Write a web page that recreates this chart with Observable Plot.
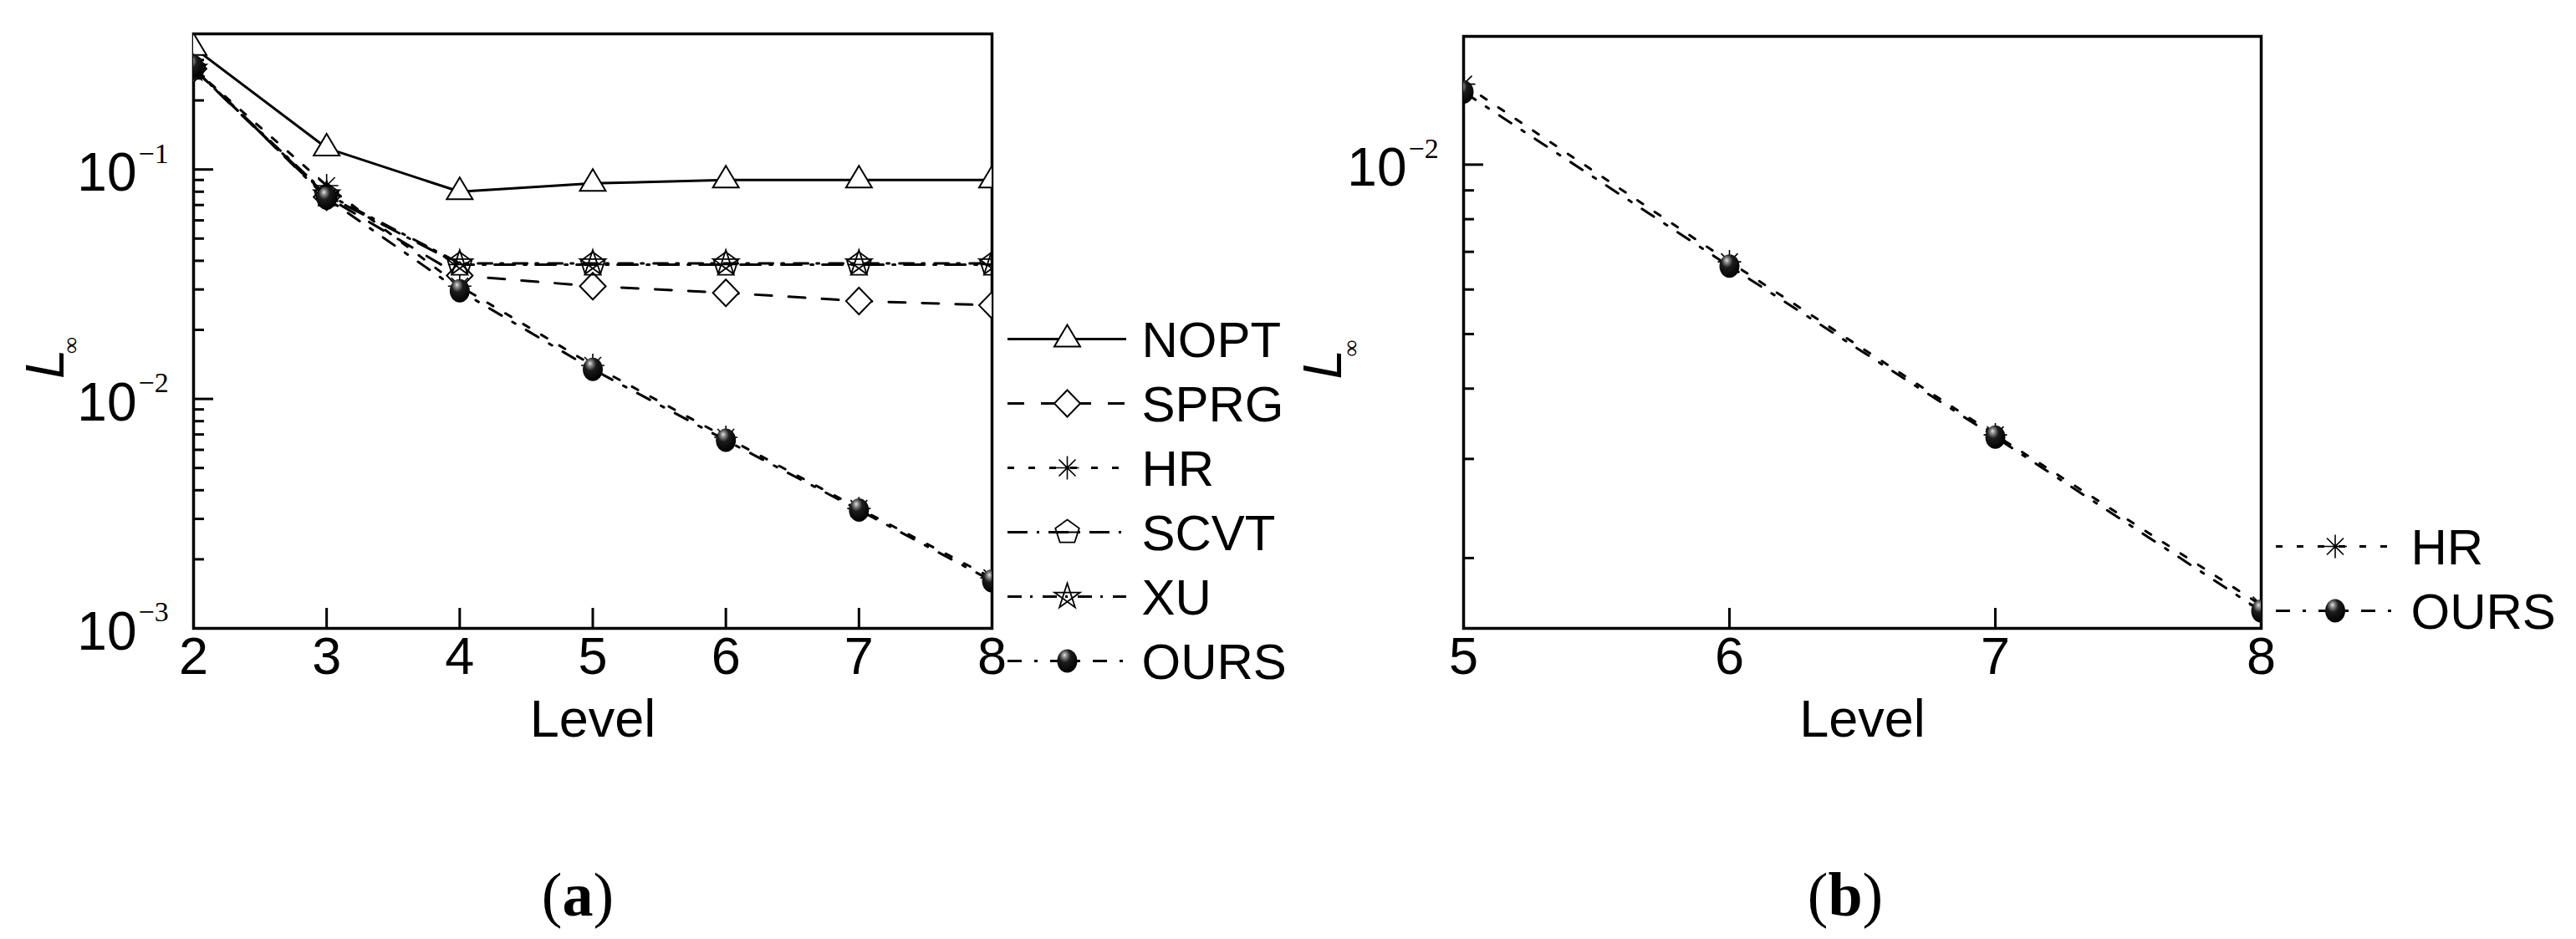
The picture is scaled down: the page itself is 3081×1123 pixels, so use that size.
<!DOCTYPE html>
<html>
<head>
<meta charset="utf-8">
<script src="https://cdn.jsdelivr.net/npm/d3@7"></script>
<script src="https://cdn.jsdelivr.net/npm/@observablehq/plot@0.6"></script>
<style>
html, body { margin: 0; padding: 0; background: #fff; }
#root { position: relative; width: 3081px; height: 1123px; overflow: hidden; background: #fff;
        font-family: "Liberation Sans", Arial, sans-serif; }
.slot { position: absolute; }
.slot svg { display: block; max-width: none !important; background: transparent !important; overflow: visible; }
.cap { position: absolute; width: 200px; text-align: center; font-family: "Liberation Serif", "Times New Roman", serif;
       font-size: 74px; line-height: 74px; color: #000; }
</style>
</head>
<body>
<svg width="0" height="0" style="position:absolute">
  <defs>
    <radialGradient id="ball" cx="0.4" cy="0.32" r="0.68" fx="0.36" fy="0.24">
      <stop offset="0" stop-color="#e6e6e6"/>
      <stop offset="0.16" stop-color="#8c8c8c"/>
      <stop offset="0.42" stop-color="#1c1c1c"/>
      <stop offset="1" stop-color="#000"/>
    </radialGradient>
  </defs>
</svg>
<div id="root"></div>
<script>
// ---------------- data ----------------
const levelsA = [2, 3, 4, 5, 6, 7, 8];
const noptA = [0.34, 0.124, 0.080, 0.087, 0.090, 0.090, 0.090];
const sprgA = [0.275, 0.076, 0.0345, 0.031, 0.029, 0.0267, 0.0256];
const hrA   = [0.275, 0.085, 0.031, 0.0140, 0.0068, 0.00333, 0.00166];
const scvtA = [0.275, 0.077, 0.0385, 0.0385, 0.0385, 0.0385, 0.0385];
const xuA   = [0.275, 0.078, 0.039, 0.039, 0.039, 0.039, 0.039];
const oursA = [0.281, 0.075, 0.0296, 0.01345, 0.0066, 0.00328, 0.00161];
const seriesA = ["NOPT", "SPRG", "HR", "SCVT", "XU", "OURS"];

const levelsB = [5, 6, 7, 8];
const hrB   = [0.0139, 0.00672, 0.00331, 0.00165];
const oursB = [0.01346, 0.0066, 0.00328, 0.00161];
const seriesB = ["HR", "OURS"];

const xTicksA = [2, 3, 4, 5, 6, 7, 8];
const xTicksB = [5, 6, 7, 8];
const yMajorA = [0.001, 0.01, 0.1];
const yMajorB = [0.01];
const yDomainA = [0.001, 0.39];
const yDomainB = [0.0015, 0.0169];
const xTitle = "Level";
const yTitle = "L";
const ySub = "∞";
const captions = ["a", "b"];

const rowsA = levelsA.map((level, i) => ({level, NOPT: noptA[i], SPRG: sprgA[i], HR: hrA[i], SCVT: scvtA[i], XU: xuA[i], OURS: oursA[i]}));
const rowsB = levelsB.map((level, i) => ({level, HR: hrB[i], OURS: oursB[i]}));

// ---------------- styles ----------------
function minorTicks([lo, hi]) {
  const out = [];
  for (let e = Math.floor(Math.log10(lo)); e <= Math.ceil(Math.log10(hi)); e++)
    for (let k = 2; k <= 9; k++) { const v = k * Math.pow(10, e); if (v >= lo && v <= hi) out.push(v); }
  return out;
}
function ellipse(c, rx, ry) {
  const kx = rx * 0.5523, ky = ry * 0.5523;
  c.moveTo(rx, 0);
  c.bezierCurveTo(rx, ky, kx, ry, 0, ry);
  c.bezierCurveTo(-kx, ry, -rx, ky, -rx, 0);
  c.bezierCurveTo(-rx, -ky, -kx, -ry, 0, -ry);
  c.bezierCurveTo(kx, -ry, rx, -ky, rx, 0);
  c.closePath();
}
function poly(c, r, order) {
  const pts = d3.range(5).map(k => { const a = (-90 + 72 * k) * Math.PI / 180; return [r * Math.cos(a), r * Math.sin(a)]; });
  order.forEach((k, i) => i ? c.lineTo(...pts[k]) : c.moveTo(...pts[k]));
  c.closePath();
}
const SYM = {
  NOPT: {draw(c) { c.moveTo(0, -17); c.lineTo(15.5, 9); c.lineTo(-15.5, 9); c.closePath(); }},
  SPRG: {draw(c) { c.moveTo(0, -16); c.lineTo(15.5, 0); c.lineTo(0, 16); c.lineTo(-15.5, 0); c.closePath(); }},
  HR: {draw(c) { const a = 14, d = 10;
    c.moveTo(-a, 0); c.lineTo(a, 0); c.moveTo(0, -a); c.lineTo(0, a);
    c.moveTo(-d, -d); c.lineTo(d, d); c.moveTo(-d, d); c.lineTo(d, -d); }},
  SCVT: {draw(c) { poly(c, 15, [0, 1, 2, 3, 4]); c.moveTo(-14, 0); c.lineTo(14, 0); }},
  XU: {draw(c) { poly(c, 16, [0, 2, 4, 1, 3]); }},
  OURS: {draw(c) { ellipse(c, 12, 14); }}
};
const STYLE = {
  NOPT: {dash: undefined, fill: "white", stroke: "black", sw: 2},
  SPRG: {dash: "20,20", fill: "white", stroke: "black", sw: 2},
  HR:   {dash: "8,17", fill: "none", stroke: "black", sw: 1.6},
  SCVT: {dash: "24,11,3,11", fill: "none", stroke: "black", sw: 1.8},
  XU:   {dash: "17,10,3,12", fill: "none", stroke: "black", sw: 1.8},
  OURS: {dash: "17,15,4,15", fill: "url(#ball)", stroke: "none", sw: 0}
};
const FONT = "Liberation Sans, Arial, sans-serif";
const SERIF = "Liberation Serif, Times New Roman, serif";

// ---------------- builders ----------------
function panel(o) {
  const {rows, series, xDomain, yDomain, xTicks, yMajor, width, height, mL, mR, mT, mB, Ldx, Ldy, Idx, Idy} = o;
  const fw = width - mL - mR, fh = height - mT - mB;
  const marks = [
    Plot.frame({strokeWidth: 3.5}),
    Plot.tickY(yMajor, {y: d => d, insetRight: fw - 24, strokeWidth: 3}),
    Plot.tickY(minorTicks(yDomain), {y: d => d, insetRight: fw - 13, strokeWidth: 3}),
    Plot.tickX(xTicks, {x: d => d, insetTop: fh - 24, strokeWidth: 3})
  ];
  for (const s of series)
    marks.push(Plot.line(rows, {x: "level", y: s, stroke: "black", strokeWidth: 3, strokeDasharray: STYLE[s].dash, clip: true}));
  for (const s of series)
    marks.push(Plot.dot(rows, {x: "level", y: s, r: 10, symbol: SYM[s], fill: STYLE[s].fill, stroke: STYLE[s].stroke, strokeWidth: STYLE[s].sw, clip: true}));
  marks.push(
    Plot.text(yMajor, {y: d => d, frameAnchor: "left", text: () => "10", textAnchor: "end", dx: -68, dy: 5, fontSize: 64, fontFamily: FONT}),
    Plot.text(yMajor, {y: d => d, frameAnchor: "left", text: d => "\u2212" + Math.round(-Math.log10(d)), textAnchor: "start", dx: -66, dy: -19, fontSize: 34, fontFamily: SERIF}),
    Plot.text(xTicks, {x: d => d, frameAnchor: "bottom", text: d => String(d), dy: 54, fontSize: 63, fontFamily: FONT}),
    Plot.text([xTitle], {frameAnchor: "bottom", text: d => d, dy: 129, fontSize: 63, fontFamily: FONT}),
    Plot.text([yTitle], {frameAnchor: "left", text: d => d, rotate: -90, dx: Ldx, dy: Ldy, fontSize: 64, fontStyle: "italic", fontFamily: FONT}),
    Plot.text([ySub], {frameAnchor: "left", text: d => d, rotate: -90, dx: Idx, dy: Idy, fontSize: 28, fontFamily: SERIF})
  );
  return Plot.plot({
    width, height, marginLeft: mL, marginRight: mR, marginTop: mT, marginBottom: mB,
    x: {domain: xDomain, axis: null},
    y: {type: "log", domain: yDomain, axis: null},
    style: {background: "transparent", fontFamily: FONT, color: "black", overflow: "visible"},
    marks
  });
}

function legend(series, {width, height, xRange, yRange, textDx}) {
  const marks = [];
  for (const s of series) {
    marks.push(Plot.ruleY([s], {y: d => d, x1: 0, x2: 1, stroke: "black", strokeWidth: 3, strokeDasharray: STYLE[s].dash}));
    marks.push(Plot.dot([s], {y: d => d, x: 0.5, r: 10, symbol: SYM[s], fill: STYLE[s].fill, stroke: STYLE[s].stroke, strokeWidth: STYLE[s].sw}));
    marks.push(Plot.text([s], {y: d => d, x: 1, text: d => d, textAnchor: "start", dx: textDx, dy: 2, fontSize: 60, fontFamily: FONT}));
  }
  return Plot.plot({
    width, height, marginLeft: 0, marginRight: 0, marginTop: 0, marginBottom: 0,
    x: {domain: [0, 1], range: xRange, axis: null},
    y: {type: "point", domain: series, range: yRange, padding: 0, axis: null},
    style: {background: "transparent", fontFamily: FONT, color: "black", overflow: "visible"},
    marks
  });
}

const root = document.getElementById("root");
function place(el, left, top) {
  const d = document.createElement("div");
  d.className = "slot"; d.style.left = left + "px"; d.style.top = top + "px";
  d.appendChild(el); root.appendChild(d);
}

place(panel({rows: rowsA, series: seriesA, xDomain: [2, 8], yDomain: yDomainA, xTicks: xTicksA, yMajor: yMajorA,
  width: 1192, height: 940, mL: 231, mR: 6, mT: 40, mB: 189, Ldx: -176, Ldy: 57, Idx: -146, Idy: 27}), 0, 0);
place(panel({rows: rowsB, series: seriesB, xDomain: [5, 8], yDomain: yDomainB, xTicks: xTicksB, yMajor: yMajorB,
  width: 1210, height: 940, mL: 250, mR: 6, mT: 43, mB: 189, Ldx: -167, Ldy: 56, Idx: -134, Idy: 29}), 1500, 0);
place(legend(seriesA, {width: 420, height: 480, xRange: [10, 152], yRange: [53, 441], textDx: 18}), 1195, 350);
place(legend(seriesB, {width: 369, height: 180, xRange: [10, 151], yRange: [53, 130], textDx: 20}), 2712, 600);

[[captions[0], 691], [captions[1], 2207]].forEach(([t, cx]) => {
  const d = document.createElement("div");
  d.className = "cap"; d.style.left = (cx - 100) + "px"; d.style.top = "1033px";
  d.innerHTML = "(<b>" + t + "</b>)";
  root.appendChild(d);
});
</script>
</body>
</html>
